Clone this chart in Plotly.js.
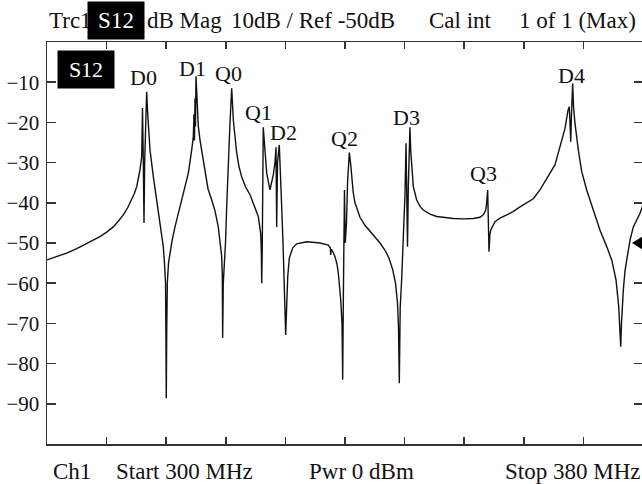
<!DOCTYPE html>
<html>
<head>
<meta charset="utf-8">
<script src="https://cdn.plot.ly/plotly-3.0.1.min.js"></script>
<style>
  html, body { margin: 0; padding: 0; background: #fff; overflow: hidden; }
  #chart { width: 644px; height: 484px; }
</style>
</head>
<body>
<div id="chart"></div>
<script>
// S12 transmission sweep, 300-380 MHz, dB magnitude
const freqMHz = [
  300.00, 301.30, 302.64, 303.99, 305.33, 306.21, 307.11, 308.01, 308.90, 309.57,
  310.24, 310.81, 311.37, 311.70, 312.04, 312.28, 312.48, 312.71, 312.82, 312.93,
  313.02, 313.11, 313.22, 313.38, 313.49, 313.62, 313.83, 314.27, 314.60, 314.94,
  315.30, 315.61, 315.77, 315.91, 315.97, 316.01, 316.07, 316.15, 316.31, 316.51,
  316.78, 317.18, 317.58, 318.08, 318.52, 318.97, 319.42, 319.64, 319.73, 319.79,
  319.87, 319.93, 320.00, 320.13, 320.31, 320.54, 321.21, 321.61, 322.11, 322.55,
  322.99, 323.22, 323.45, 323.53, 323.58, 323.66, 323.76, 323.96, 324.12, 324.34,
  324.56, 324.79, 325.01, 325.46, 325.77, 326.13, 326.64, 327.25, 327.69, 328.36,
  328.68, 328.77, 328.82, 328.89, 329.03, 329.19, 329.49, 329.93, 330.38, 330.60,
  330.74, 330.83, 330.94, 331.18, 331.34, 331.50, 331.68, 331.81, 332.04, 332.17,
  332.31, 332.52, 332.98, 333.52, 334.86, 336.64, 337.76, 338.03, 338.08, 338.15,
  338.32, 338.66, 338.93, 339.10, 339.42, 339.60, 339.69, 339.77, 339.87, 339.93,
  340.03, 340.20, 340.34, 340.58, 340.74, 340.90, 341.11, 341.34, 341.68, 342.01,
  342.68, 343.36, 344.03, 344.70, 345.37, 345.91, 346.38, 346.78, 347.05, 347.18,
  347.29, 347.41, 347.61, 347.83, 347.99, 348.05, 348.19, 348.30, 348.39, 348.50,
  348.59, 348.72, 348.82, 348.95, 349.17, 349.62, 350.07, 350.51, 351.41, 352.31,
  353.42, 354.54, 355.88, 357.22, 358.12, 358.56, 358.86, 358.99, 359.15, 359.26,
  359.33, 359.44, 359.56, 360.13, 360.81, 361.71, 362.55, 363.49, 364.43, 365.28,
  366.17, 366.85, 367.52, 368.19, 368.86, 369.53, 369.93, 370.11, 370.24, 370.30,
  370.40, 370.56, 370.67, 370.87, 371.32, 371.77, 372.44, 373.34, 374.23, 375.13,
  375.80, 376.38, 376.74, 377.01, 377.11, 377.36, 377.58, 377.89, 378.26, 378.70,
  379.60, 380.00
];
const levelDb = [
  -54.2, -53.4, -52.5, -51.4, -50.2, -49.3, -48.4, -47.3, -46.0, -44.6,
  -43.0, -41.3, -39.3, -37.8, -36.0, -34.0, -31.8, -28.5, -16.4, -29.9,
  -45.0, -29.8, -20.0, -12.4, -17.0, -22.0, -26.9, -33.5, -37.8, -41.8,
  -47.0, -50.9, -55.0, -60.0, -75.0, -88.6, -72.0, -60.0, -55.0, -52.5,
  -49.5, -46.0, -43.0, -40.0, -36.5, -32.6, -26.9, -23.5, -18.0, -24.5,
  -14.0, -21.0, -8.5, -15.0, -21.0, -24.4, -32.6, -36.5, -39.3, -42.0,
  -46.0, -49.5, -53.4, -58.0, -73.6, -60.0, -56.7, -50.0, -41.0, -28.5,
  -20.2, -11.5, -19.4, -27.6, -31.0, -33.5, -36.0, -38.0, -40.0, -43.4,
  -47.6, -52.0, -60.0, -52.0, -21.2, -26.0, -32.6, -36.8, -33.0, -30.0,
  -26.2, -46.0, -30.0, -25.6, -32.0, -41.0, -50.0, -57.5, -72.9, -65.8,
  -58.5, -53.8, -51.2, -50.2, -49.7, -50.0, -50.5, -51.2, -53.0, -51.5,
  -52.0, -53.4, -55.3, -57.5, -64.0, -70.0, -84.0, -65.0, -45.0, -36.8,
  -50.0, -45.0, -35.0, -27.5, -30.0, -34.3, -37.5, -40.0, -42.0, -43.6,
  -45.6, -47.0, -48.6, -50.0, -51.8, -53.8, -56.5, -60.0, -65.0, -71.0,
  -84.9, -66.0, -59.0, -49.3, -42.0, -38.0, -25.2, -40.0, -50.9, -36.0,
  -30.0, -21.2, -27.0, -31.5, -36.0, -39.3, -40.9, -41.8, -42.8, -43.4,
  -43.7, -43.9, -44.0, -43.9, -43.6, -43.0, -42.0, -40.5, -36.8, -45.0,
  -52.2, -48.0, -46.8, -44.7, -43.8, -43.0, -42.2, -41.0, -40.0, -39.0,
  -36.8, -34.8, -32.6, -30.5, -26.0, -21.5, -17.0, -16.1, -22.0, -24.8,
  -18.0, -10.3, -16.0, -20.2, -26.9, -32.2, -36.8, -41.8, -46.8, -50.9,
  -54.2, -59.2, -65.8, -75.8, -70.0, -61.7, -57.0, -53.4, -49.3, -46.0,
  -42.6, -40.5
];

// Resonance markers
const markerNames = ['D0', 'D1', 'Q0', 'Q1', 'D2', 'Q2', 'D3', 'Q3', 'D4'];
const markerFreq  = [313.0, 319.5, 324.4, 328.4, 331.8, 339.9, 348.3, 358.6, 370.4];
const markerLevel = [-11.2, -9.0, -10.2, -19.9, -24.9, -26.4, -21.1, -35.1, -10.7];

// Instrument settings
const freqStart = 300;
const freqStop = 380;
const freqDiv = 8;
const refLevel = -50;
const dbPerDiv = 10;
const yTickVals = [-90, -80, -70, -60, -50, -40, -30, -20, -10];

const SERIF = "'Liberation Serif', 'Times New Roman', serif";
const INK = '#111';

const W = 644, H = 484;
const M = { l: 47, r: 1, t: 42, b: 40 };
const PW = W - M.l - M.r, PH = H - M.t - M.b;
const px = p => (p - M.l) / PW;          // page x -> paper x
const py = p => (H - M.b - p) / PH;      // page y -> paper y

const xTicks = [];
for (let f = freqStart; f <= freqStop; f += freqDiv) xTicks.push(f);

const trace = {
  type: 'scatter',
  mode: 'lines',
  x: freqMHz,
  y: levelDb,
  line: { color: INK, width: 1.4 },
  hoverinfo: 'skip'
};

const annotations = [];

// marker labels above each resonance
markerNames.forEach((n, i) => {
  annotations.push({
    x: markerFreq[i], y: markerLevel[i], xref: 'x', yref: 'y',
    text: n, showarrow: false, xanchor: 'center', yanchor: 'bottom', yshift: -5,
    font: { family: SERIF, size: 22, color: INK }
  });
});

// header line
const headY = py(21);
const header = [
  ['Trc1', 47, 'left'],
  ['dB Mag', 145, 'left'],
  [dbPerDiv + 'dB / Ref ' + refLevel + 'dB', 229, 'left'],
  ['Cal int', 427, 'left'],
  ['1 of 1 (Max)', 638, 'right']
];
header.forEach(([t, x, a]) => {
  annotations.push({
    xref: 'paper', yref: 'paper', x: px(x), y: headY,
    text: t, showarrow: false, xanchor: a, yanchor: 'middle',
    font: { family: SERIF, size: 23, color: INK }
  });
});
// highlighted trace name in header
annotations.push({
  xref: 'paper', yref: 'paper', x: px(87), y: py(20.5),
  text: 'S12', showarrow: false, xanchor: 'left', yanchor: 'middle',
  bgcolor: '#000', borderpad: 0, width: 56, height: 37,
  font: { family: SERIF, size: 23, color: '#fff' }
});
// trace tag inside the grid
annotations.push({
  xref: 'paper', yref: 'paper', x: px(57), y: py(69.5),
  text: 'S12', showarrow: false, xanchor: 'left', yanchor: 'middle',
  bgcolor: '#000', borderpad: 0, width: 56, height: 37,
  font: { family: SERIF, size: 22, color: '#fff' }
});

// footer line
const footY = py(471);
const footer = [
  ['Ch1', 51, 'left'],
  ['Start ' + freqStart + ' MHz', 114, 'left'],
  ['Pwr 0 dBm', 307, 'left'],
  ['Stop ' + freqStop + ' MHz', 642, 'right']
];
footer.forEach(([t, x, a]) => {
  annotations.push({
    xref: 'paper', yref: 'paper', x: px(x), y: footY,
    text: t, showarrow: false, xanchor: a, yanchor: 'middle',
    font: { family: SERIF, size: 23, color: INK }
  });
});

const shapes = [{
  // reference level pointer on the right edge
  type: 'path', xref: 'x', yref: 'y',
  xsizemode: 'pixel', ysizemode: 'pixel',
  xanchor: freqStop, yanchor: refLevel,
  path: 'M -11 0 L 0 7 L 0 -7 Z',
  fillcolor: '#000', line: { width: 0 }
}];

const axisCommon = {
  showline: true, linecolor: '#333', linewidth: 1.5,
  ticks: 'inside', tickcolor: '#333', tickwidth: 1.5,
  mirror: 'ticks', showgrid: false, zeroline: false
};

const layout = {
  width: W, height: H,
  margin: M,
  paper_bgcolor: '#fff', plot_bgcolor: '#fff',
  showlegend: false,
  xaxis: Object.assign({}, axisCommon, {
    range: [freqStart, freqStop], tickmode: 'array', tickvals: xTicks,
    ticklen: 7, showticklabels: false
  }),
  yaxis: Object.assign({}, axisCommon, {
    range: [refLevel - 5 * dbPerDiv, refLevel + 5 * dbPerDiv],
    tickmode: 'array', tickvals: yTickVals, ticklen: 9,
    tickfont: { family: SERIF, size: 21, color: INK },
    ticklabelstandoff: 2
  }),
  annotations: annotations,
  shapes: shapes
};

Plotly.newPlot('chart', [trace], layout, { staticPlot: true, displayModeBar: false });
</script>
</body>
</html>
